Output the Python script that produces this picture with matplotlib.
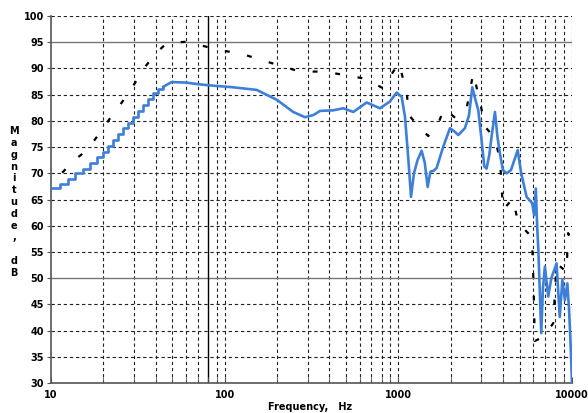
import matplotlib
matplotlib.use('Agg')
import matplotlib.pyplot as plt
import numpy as np

# staircase part of the measured response (low frequencies)
step_freq = [10, 11.3, 12.5, 13.7, 15.3, 16.8, 18.3, 20.0, 21.4, 22.8, 24.4,
             26.0, 27.8, 29.8, 31.8, 34.0, 36.3, 38.8, 41.5, 44.3]
step_db = [67.1, 67.9, 69.0, 70.0, 70.8, 71.9, 73.2, 74.1, 75.2, 76.3, 77.4,
           78.6, 79.6, 80.8, 81.9, 83.0, 84.1, 85.3, 86.0, 86.5]

# smooth part of the measured response
resp_freq = [44.3, 49.5, 60, 70, 80, 112, 153, 200, 248, 290, 324, 354, 420, 482,
             550, 657, 784, 895, 977, 1045, 1092, 1140, 1183, 1230, 1290, 1362,
             1420, 1475, 1530, 1600, 1661, 1815, 1984, 2100, 2213, 2417, 2550,
             2667, 2780, 2887, 3000, 3126, 3222, 3340, 3443, 3600, 3720, 3845,
             4000, 4207, 4450, 4867, 5100, 5480, 5900, 6050, 6190, 6300, 6400,
             6530, 6650, 6800, 6980, 7300, 7600, 8150, 8500, 8800, 9100, 9400,
             9620, 9800, 10000]
resp_db = [86.5, 87.4, 87.3, 87.0, 86.8, 86.4, 85.9, 84.0, 81.7, 80.7, 81.1, 81.9,
           82.0, 82.4, 81.7, 83.5, 82.4, 83.7, 85.4, 84.6, 80.8, 73.0, 65.5, 70.0,
           72.5, 74.3, 72.0, 67.4, 70.3, 70.5, 71.0, 75.1, 78.6, 78.0, 77.3, 78.6,
           81.0, 86.4, 84.0, 82.0, 77.0, 71.3, 70.9, 73.5, 77.0, 81.7, 77.0, 73.8,
           70.6, 70.0, 70.6, 74.4, 70.0, 65.5, 64.3, 62.0, 67.1, 60.0, 55.4, 47.1,
           39.5, 48.0, 52.2, 46.5, 50.0, 52.8, 42.6, 49.7, 45.8, 49.0, 44.0, 38.0, 30.0]

# black dashed trace
ref_freq = [11.6, 13.3, 15.4, 17.5, 19.8, 22.3, 25.3, 28.5, 31.5, 35.2, 40.2, 46.3,
            60.4, 85.9, 92, 122, 187, 271, 370, 504, 650, 818, 906, 1006, 1116,
            1150, 1303, 1487, 1698, 1838, 2138, 2474, 2700, 2950, 3155, 3600, 3850,
            3935, 4000, 4570, 4900, 5360, 5850, 5950, 6000, 6050, 6100, 6820, 7800,
            8150, 9300, 9500, 10000]
ref_db = [70.1, 72.2, 73.9, 76.0, 78.4, 80.9, 83.3, 85.7, 88.0, 90.5, 92.9, 94.8,
          95.1, 93.8, 93.5, 92.9, 91.0, 89.4, 89.4, 88.7, 88.0, 86.2, 88.7, 91.0,
          85.6, 81.1, 79.0, 77.1, 79.5, 82.4, 80.5, 82.4, 89.1, 83.7, 78.9, 76.7,
          72.5, 67.4, 63.0, 65.2, 60.5, 59.2, 57.9, 53.5, 49.0, 44.6, 38.0, 38.8,
          41.4, 52.8, 51.2, 58.6, 57.0]

yticks = list(range(30, 101, 5))
xticks = [10, 100, 1000, 10000]
xlabels = ['10', '100', '1000', '10000']

fig = plt.figure(figsize=(5.88, 4.13), dpi=100)
ax = fig.add_axes([51/588, 1-383/413, 521/588, 367/413])

ax.set_xscale('log')
ax.set_xlim(10, 10000)
ax.set_ylim(30, 100)

# grid
gkw = dict(color='#222222', lw=0.8, linestyle=(0, (3, 2.5)), zorder=1)
minor_x = [m * d for d in [10, 100, 1000] for m in range(2, 10)]
for xv in minor_x + xticks[1:]:
    if xv == 80:
        continue
    ax.axvline(xv, **gkw)
for yv in yticks[1:]:
    if yv in (95, 50):
        ax.axhline(yv, color='#777777', lw=1.0, zorder=1)
    else:
        ax.axhline(yv, **gkw)
ax.axvline(80, color='black', lw=1.0, zorder=1)

ax.plot(ref_freq, ref_db, color='black', lw=1.6, linestyle=(0, (2.2, 8)), zorder=2)
ax.plot(step_freq, step_db, color='#3d7fd9', lw=1.9, drawstyle='steps-post', zorder=3)
ax.plot(resp_freq, resp_db, color='#3d7fd9', lw=1.9, zorder=3)

for s in ['top', 'right']:
    ax.spines[s].set_visible(False)
ax.spines['left'].set_color('#555555')
ax.spines['bottom'].set_color('#555555')
ax.spines['left'].set_linewidth(1.2)
ax.spines['bottom'].set_linewidth(1.2)

ax.set_yticks(yticks)
ax.set_yticklabels([str(v) for v in yticks], fontsize=7, fontweight='bold')
ax.set_xticks(xticks)
ax.set_xticklabels(xlabels, fontsize=7, fontweight='bold')
ax.set_xticks(minor_x, minor=True)
ax.xaxis.set_minor_formatter(matplotlib.ticker.NullFormatter())
ax.tick_params(axis='x', which='both', direction='in', length=4, pad=5, color='#555555')
ax.tick_params(axis='y', which='both', direction='out', length=3, pad=2, color='#555555')

fig.text(310/588, 1-407/413, 'Frequency,   Hz', ha='center', va='center',
         fontsize=7, fontweight='bold')
fig.text(14/588, 1-202/413, '\n'.join('Magnitude, dB'), ha='center', va='center',
         fontsize=7, fontweight='bold', linespacing=1.22)

fig.savefig('out.png', dpi=100)
